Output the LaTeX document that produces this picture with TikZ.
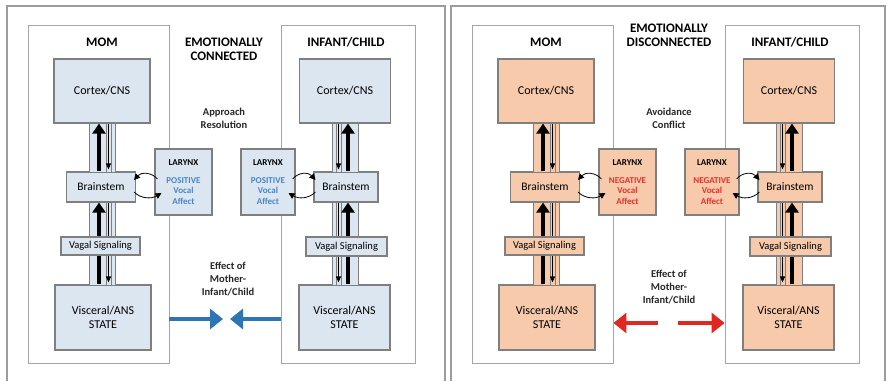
\documentclass[tikz,border=0pt]{standalone}
\usepackage{fontspec}
\setmainfont{Carlito}
\usetikzlibrary{arrows.meta}
\definecolor{bluefill}{HTML}{DCE6F1}
\definecolor{peachfill}{HTML}{F6CAAB}
\definecolor{bluetext}{HTML}{4A86C5}
\definecolor{redtext}{HTML}{E5322D}
\definecolor{bluearrow}{HTML}{2E75B6}
\definecolor{redarrow}{HTML}{E02722}
\definecolor{boxgray}{HTML}{7F7F7F}
\definecolor{colgray}{HTML}{A6A6A6}
\definecolor{framegray}{HTML}{9C9C9C}
\tikzset{
  column/.style={draw=colgray, line width=0.9pt, fill=white, inner sep=0pt},
  part/.style={draw=boxgray, line width=1.1pt, inner sep=0pt, align=center},
  chan/.style={draw=boxgray, line width=0.8pt},
  upward/.style={line width=4.5pt, -{Triangle[width=13pt,length=10pt]}},
  downward/.style={line width=0.9pt, -{Triangle[width=5pt,length=6pt]}, shorten >=2pt},
  loopback/.style={line width=0.8pt, -{Triangle[width=6pt,length=6pt]}},
  effect/.style={line width=3.5pt, -{Triangle[width=20pt,length=13pt]}},
  heading/.style={font=\bfseries\fontsize{13}{14}\selectfont, align=center},
  midtext/.style={font=\bfseries\fontsize{10.5}{12.8}\selectfont, align=center, text=black!85}
}
\begin{document}
\begin{tikzpicture}[x=1pt,y=-1pt]
  \useasboundingbox (0,0) rectangle (889,381);
  \draw[framegray, line width=1.5pt] (7,381) -- (7,6) -- (445,6) -- (445,381);
  \draw[framegray, line width=1.5pt] (451,381) -- (451,6) -- (885,6) -- (885,381);
  \foreach \p/\dx/\fc/\tc/\word in {1/0/bluefill/bluetext/POSITIVE, 2/444/peachfill/redtext/NEGATIVE} {
    \node[column, minimum width=141pt, minimum height=338pt] (mcol\p) at (\dx+98.5,194) {};
    \node[column, minimum width=134pt, minimum height=338pt] (kcol\p) at (\dx+348,194) {};
    \node[heading] (mom\p) at (\dx+102,42.5) {MOM};
    \node[heading] (kid\p) at (\dx+346,42.5) {INFANT/CHILD};
    \node[part, fill=\fc, minimum width=96pt, minimum height=64pt, font=\fontsize{12}{14}\selectfont] (cxm\p) at (\dx+102,91) {Cortex/CNS};
    \node[part, fill=\fc, minimum width=91pt, minimum height=64pt, font=\fontsize{12}{14}\selectfont] (cxk\p) at (\dx+345,91) {Cortex/CNS};
    \node[part, fill=\fc, minimum width=69pt, minimum height=30pt, font=\fontsize{11.5}{14}\selectfont] (bsm\p) at (\dx+101,187) {Brainstem};
    \node[part, fill=\fc, minimum width=64pt, minimum height=30pt, font=\fontsize{11.5}{14}\selectfont] (bsk\p) at (\dx+346,187) {Brainstem};
    \node[part, fill=\fc, minimum width=96pt, minimum height=65pt, font=\fontsize{12}{14.3}\selectfont] (vsm\p) at (\dx+103,317.5) {Visceral/ANS\\STATE};
    \node[part, fill=\fc, minimum width=91pt, minimum height=65pt, font=\fontsize{12}{14.3}\selectfont] (vsk\p) at (\dx+344.5,317.5) {Visceral/ANS\\STATE};
    \node[part, fill=\fc, text=\tc, minimum width=57pt, minimum height=66pt, font=\bfseries\fontsize{9}{10.7}\selectfont] (lxm\p) at (\dx+183.5,182) {\textcolor{black}{LARYNX}\\[7pt]\word\\Vocal\\Affect};
    \node[part, fill=\fc, text=\tc, minimum width=54pt, minimum height=66pt, font=\bfseries\fontsize{9}{10.7}\selectfont] (lxk\p) at (\dx+268,182) {\textcolor{black}{LARYNX}\\[7pt]\word\\Vocal\\Affect};
    \draw[chan, fill=\fc] (\dx+89,123) rectangle (\dx+115,172);
    \draw[chan, fill=\fc] (\dx+89,202) rectangle (\dx+115,285);
    \draw[chan] (\dx+106,123) rectangle (\dx+111,172) (\dx+106,202) rectangle (\dx+111,285);
    \draw[chan, fill=\fc] (\dx+332,123) rectangle (\dx+358,172);
    \draw[chan, fill=\fc] (\dx+332,202) rectangle (\dx+358,285);
    \draw[chan] (\dx+336,123) rectangle (\dx+341,172) (\dx+336,202) rectangle (\dx+341,285);
    \coordinate (ta\p) at (\dx+99,0);
    \coordinate (na\p) at (\dx+108.5,0);
    \coordinate (tb\p) at (\dx+348,0);
    \coordinate (nb\p) at (\dx+338.5,0);
    \draw[upward] (bsm\p.north -| ta\p) -- (cxm\p.south -| ta\p);
    \draw[downward] (cxm\p.south -| na\p) -- (bsm\p.north -| na\p);
    \draw[upward] (vsm\p.north -| ta\p) -- (bsm\p.south -| ta\p);
    \draw[downward] (bsm\p.south -| na\p) -- (vsm\p.north -| na\p);
    \draw[upward] (bsk\p.north -| tb\p) -- (cxk\p.south -| tb\p);
    \draw[downward] (cxk\p.south -| nb\p) -- (bsk\p.north -| nb\p);
    \draw[upward] (vsk\p.north -| tb\p) -- (bsk\p.south -| tb\p);
    \draw[downward] (bsk\p.south -| nb\p) -- (vsk\p.north -| nb\p);
    \node[part, fill=\fc, minimum width=79pt, minimum height=18pt, font=\fontsize{10.5}{12}\selectfont] (vgm\p) at (\dx+100.5,246) {Vagal Signaling};
    \node[part, fill=\fc, minimum width=81pt, minimum height=19pt, font=\fontsize{10.5}{12}\selectfont] (vgk\p) at (\dx+346.5,246.5) {Vagal Signaling};
    \draw[loopback] ([xshift=3pt,yshift=3pt]lxm\p.west) .. controls +(-6pt,7pt) and +(7pt,8pt) .. ([xshift=-2pt,yshift=7pt]bsm\p.east);
    \draw[loopback] ([xshift=-2pt,yshift=-5pt]bsm\p.east) .. controls +(7pt,-7pt) and +(-10pt,-6pt) .. ([xshift=7pt,yshift=-11pt]lxm\p.west);
    \draw[loopback] ([xshift=-3pt,yshift=3pt]lxk\p.east) .. controls +(6pt,7pt) and +(-7pt,8pt) .. ([xshift=2pt,yshift=7pt]bsk\p.west);
    \draw[loopback] ([xshift=2pt,yshift=-5pt]bsk\p.west) .. controls +(-7pt,-7pt) and +(10pt,-6pt) .. ([xshift=-7pt,yshift=-11pt]lxk\p.east);
  }
  \node[heading] (title1) at (224,49) {EMOTIONALLY\\CONNECTED};
  \node[midtext] (note1) at (224,118.5) {Approach\\Resolution};
  \node[midtext] (eff1) at (228,279) {Effect of\\Mother-\\Infant/Child};
  \coordinate (hitm1) at (223,319);
  \coordinate (hitk1) at (230,319);
  \draw[effect, bluearrow] (mcol1.east |- hitm1) -- (hitm1);
  \draw[effect, bluearrow] (kcol1.west |- hitk1) -- (hitk1);
  \node[heading] (title2) at (669,35) {EMOTIONALLY\\DISCONNECTED};
  \node[midtext] (note2) at (669,118.5) {Avoidance\\Conflict};
  \node[midtext] (eff2) at (669,287) {Effect of\\Mother-\\Infant/Child};
  \coordinate (fromm2) at (658,323);
  \coordinate (fromk2) at (678,323);
  \draw[effect, redarrow] (fromm2) -- (mcol2.east |- fromm2);
  \draw[effect, redarrow] (fromk2) -- (kcol2.west |- fromk2);
\end{tikzpicture}
\end{document}
